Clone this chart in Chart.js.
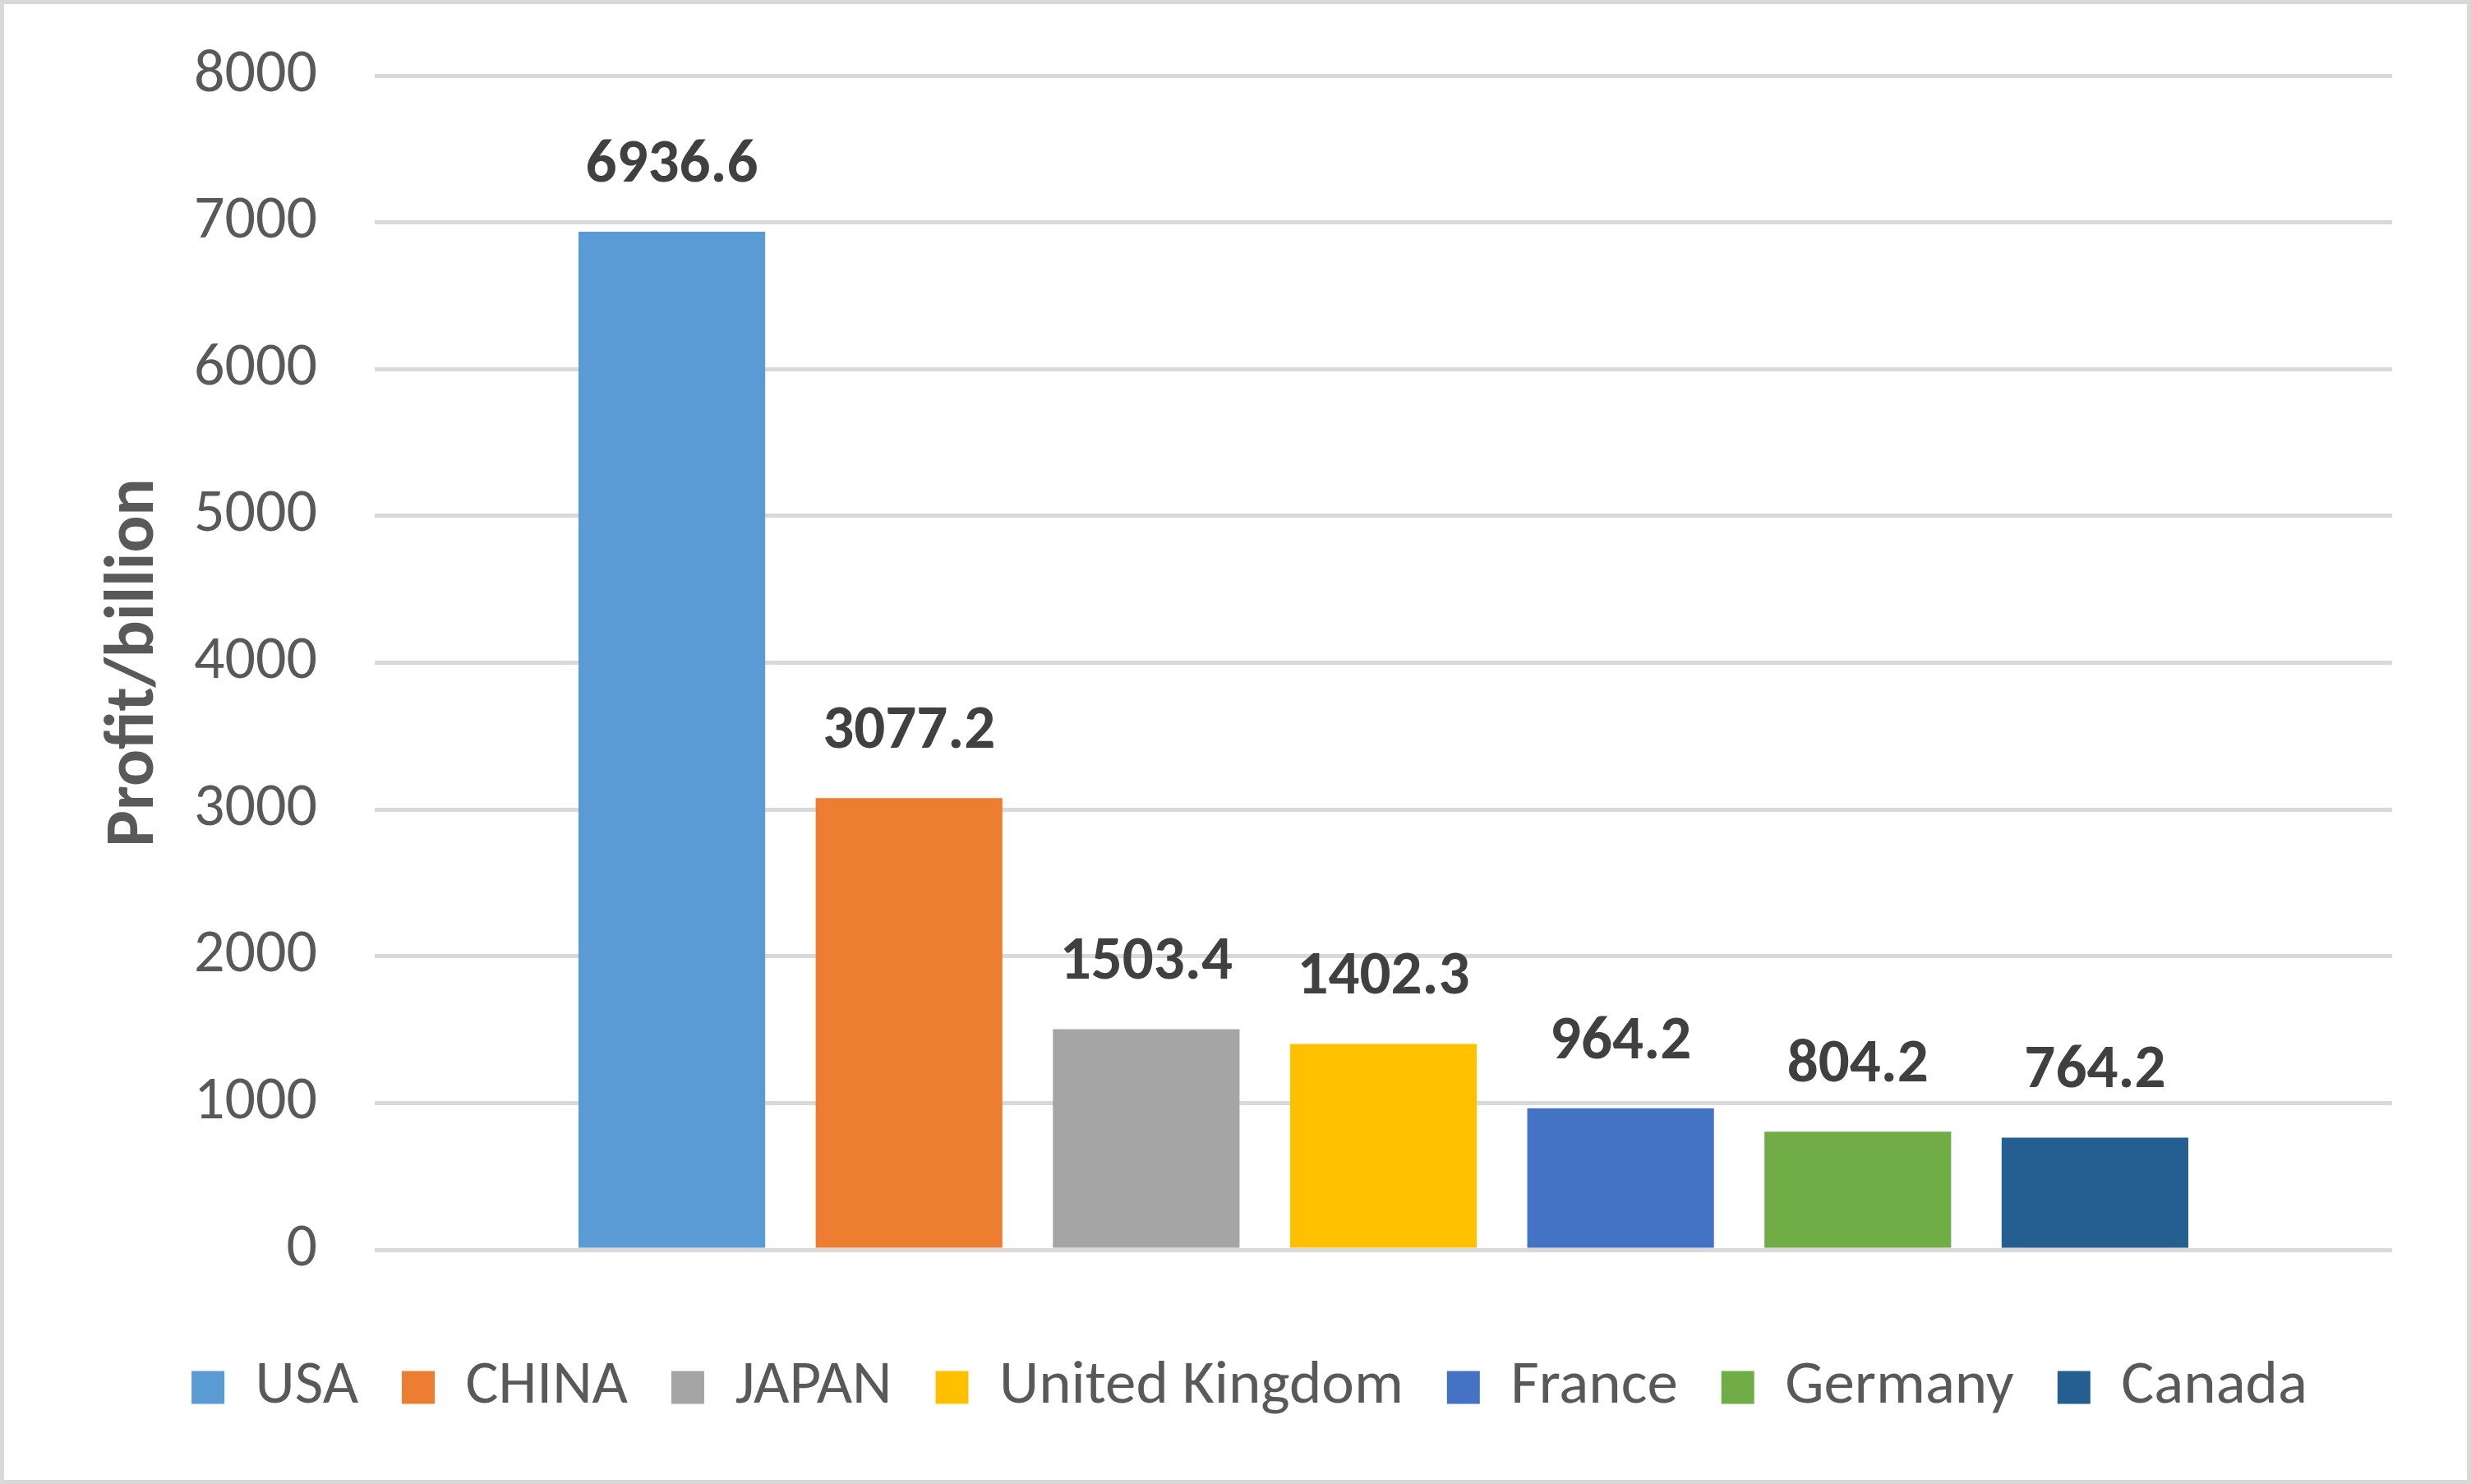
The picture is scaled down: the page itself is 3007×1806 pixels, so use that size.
<!DOCTYPE html>
<html>
<head>
<meta charset="utf-8">
<script src="https://cdn.jsdelivr.net/npm/chart.js@4/dist/chart.umd.min.js"></script>
<style>
  html, body { margin: 0; padding: 0; background: #fff; }
  #wrap { position: relative; width: 3007px; height: 1806px; }
  #frame { position: absolute; left: 0; top: 0; width: 3007px; height: 1806px;
           box-sizing: border-box; border: 5px solid #d9d9d9; pointer-events: none; }
</style>
</head>
<body>
<div id="wrap">
  <canvas id="myChart" width="3007" height="1806"></canvas>
  <div id="frame"></div>
</div>
<script>
// Lucro por país (um grupo, uma série por país)
const countries = ['USA', 'CHINA', 'JAPAN', 'United Kingdom', 'France', 'Germany', 'Canada'];
const profits = [6936.6, 3077.2, 1503.4, 1402.3, 964.2, 804.2, 764.2];
const colors = ['#5b9bd5', '#ed7d31', '#a5a5a5', '#ffc000', '#4472c4', '#70ad47', '#255e91'];
const yTicks = [0, 1000, 2000, 3000, 4000, 5000, 6000, 7000, 8000];

const FONT = 'Carlito, Lato';

// rótulos em cima das barras
const barLabels = {
    id: 'barLabels',
    afterDatasetsDraw(chart) {
        const ctx = chart.ctx;
        ctx.save();
        ctx.font = 'bold 75px ' + FONT;
        ctx.fillStyle = '#404040';
        ctx.textAlign = 'center';
        ctx.textBaseline = 'middle';
        chart.data.datasets.forEach((ds, i) => {
            const meta = chart.getDatasetMeta(i);
            meta.data.forEach((bar, j) => {
                ctx.fillText(ds.data[j].toFixed(1), bar.x, bar.y - 80);
            });
        });
        ctx.restore();
    }
};

const ctx = document.getElementById('myChart').getContext('2d');

const myChart = new Chart(ctx, {
    type: 'bar',
    data: {
        labels: [''],
        datasets: countries.map((c, i) => ({
            label: c,
            data: [profits[i]],
            backgroundColor: colors[i],
            borderWidth: 0,
            categoryPercentage: 0.823,
            barPercentage: 0.787
        }))
    },
    options: {
        responsive: false,
        animation: false,
        layout: {
            padding: { top: 92, right: 96, bottom: 70, left: 130 }
        },
        plugins: {
            legend: {
                position: 'bottom',
                labels: {
                    boxWidth: 40,
                    boxHeight: 40,
                    padding: 53,
                    color: '#595959',
                    font: { family: FONT, size: 75 }
                }
            },
            tooltip: { enabled: false }
        },
        scales: {
            x: {
                display: true,
                grid: { display: false },
                border: { display: false },
                ticks: { display: false },
                afterFit(scale) { scale.height = 77; }
            },
            y: {
                min: 0,
                max: 8000,
                afterBuildTicks(scale) {
                    scale.ticks = yTicks.map(v => ({ value: v }));
                },
                afterFit(scale) {
                    scale.width = 326;
                    // o padding dos ticks não deve empurrar a área do gráfico
                    scale.paddingTop = 20;
                    scale.paddingBottom = 20;
                },
                grid: {
                    color: '#d9d9d9',
                    lineWidth: 5,
                    drawTicks: false
                },
                border: { display: false },
                ticks: {
                    padding: 70,
                    color: '#595959',
                    font: { family: FONT, size: 74 },
                    callback: (v) => String(v)
                },
                title: {
                    display: true,
                    text: 'Profit/billion',
                    color: '#595959',
                    padding: { top: -7, bottom: 0 },
                    font: { family: FONT, size: 84, weight: 'bold', lineHeight: 1 }
                }
            }
        }
    },
    plugins: [barLabels]
});
</script>
</body>
</html>
